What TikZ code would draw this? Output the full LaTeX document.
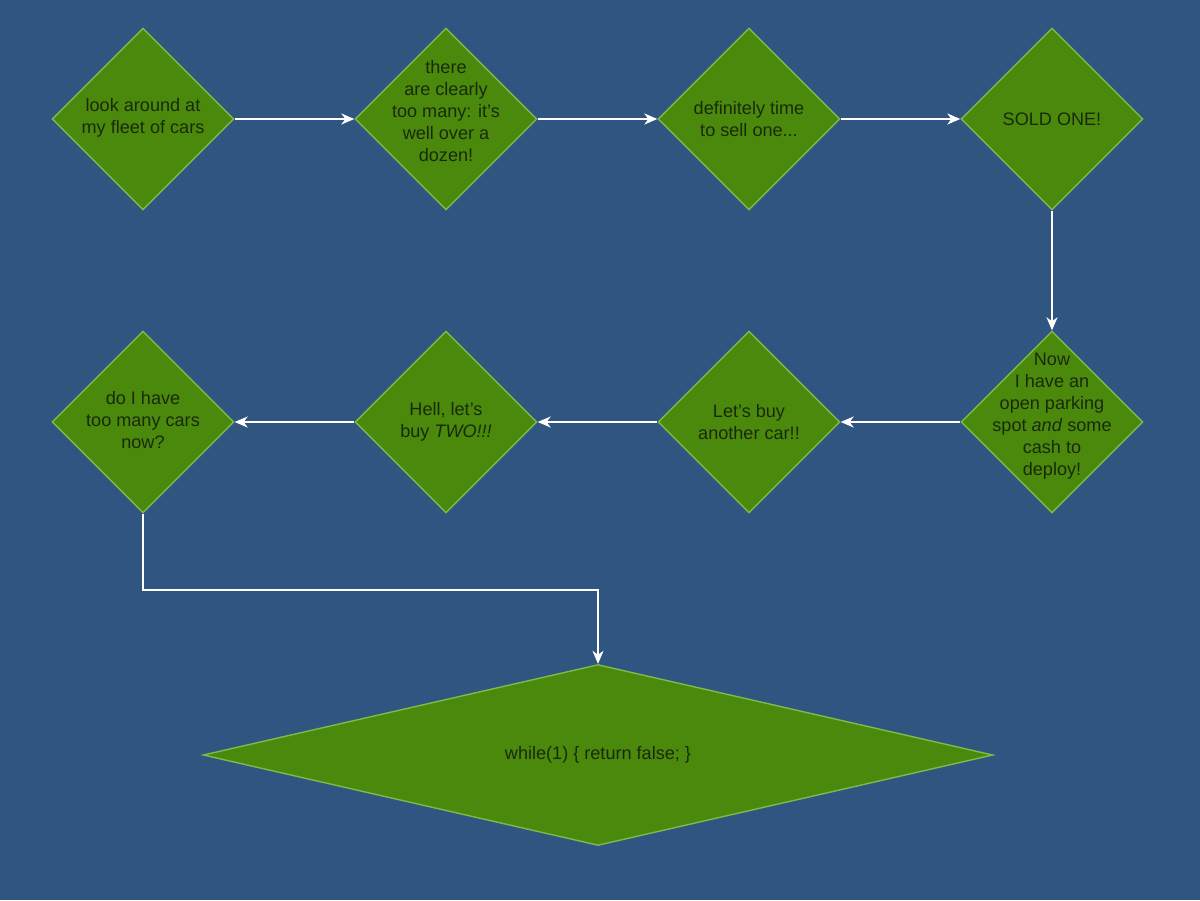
\documentclass[tikz,border=0pt]{standalone}
\usepackage{fontspec}
\setmainfont{Liberation Sans}
\usetikzlibrary{positioning, arrows.meta, shapes.geometric}

\definecolor{bgblue}{RGB}{48,85,128}
\definecolor{boxgreen}{RGB}{75,137,12}
\definecolor{edgegreen}{RGB}{125,185,75}
\definecolor{txtdark}{RGB}{25,42,10}

% apostrophe droite
\newcommand{\apos}{\char39\relax}

\tikzset{
    dia/.style={diamond, draw=edgegreen, fill=boxgreen, line width=0.8pt,
                inner sep=0pt, minimum width=3.64cm, minimum height=3.64cm},
    txt/.style={align=center, text=txtdark, font=\fontsize{10.3}{12.5}\selectfont},
    arr/.style={draw=white, line width=1pt, -{Stealth[length=2.6mm, width=2.2mm, inset=0.8mm]}}
}

\begin{document}
\begin{tikzpicture}[x=0.02cm, y=-0.02cm]
    % fond
    \fill[bgblue] (0,0) rectangle (1200,900);
    \useasboundingbox (0,0) rectangle (1200,900);

    % premiere ligne
    \node[dia] (d1) at (143,119) {};
    \node[dia] (d2) at (446,119) {};
    \node[dia] (d3) at (749,119) {};
    \node[dia] (d4) at (1052,119) {};

    % deuxieme ligne
    \node[dia] (d5) at (1052,422) {};
    \node[dia] (d6) at (749,422) {};
    \node[dia] (d7) at (446,422) {};
    \node[dia] (d8) at (143,422) {};

    % la boucle finale
    \node[dia, minimum width=15.8cm, minimum height=3.62cm] (fin) at (598,755) {};

    % textes
    \node[txt] (t1) at ([yshift=0.03cm]d1) {look around at\\my fleet of cars};
    \node[txt] (t2) at ([yshift=0.16cm]d2) {there\\are clearly\\too many: it\apos s\\well over a\\dozen!};
    \node[txt] (t3) at (d3) {definitely time\\to sell one...};
    \node[txt] (t4) at (d4) {SOLD ONE!};
    \node[txt] (t5) at ([yshift=0.12cm]d5) {Now\\I have an\\open parking\\spot \textit{and} some\\cash to\\deploy!};
    \node[txt] (t6) at (d6) {Let\apos s buy\\another car!!};
    \node[txt] (t7) at (d7) {Hell, let\apos s\\buy \textit{TWO!!!}};
    \node[txt] (t8) at ([yshift=0.04cm]d8) {do I have\\too many cars\\now?};
    \node[txt] (t9) at (fin) {while(1) \{ return false; \}};

    % fleches
    \draw[arr] (d1.east) -- (d2.west);
    \draw[arr] (d2.east) -- (d3.west);
    \draw[arr] (d3.east) -- (d4.west);
    \draw[arr] (d4.south) -- (d5.north);
    \draw[arr] (d5.west) -- (d6.east);
    \draw[arr] (d6.west) -- (d7.east);
    \draw[arr] (d7.west) -- (d8.east);
    \draw[arr] (d8.south) -- ++(0,76) -| (fin.north);
\end{tikzpicture}
\end{document}
